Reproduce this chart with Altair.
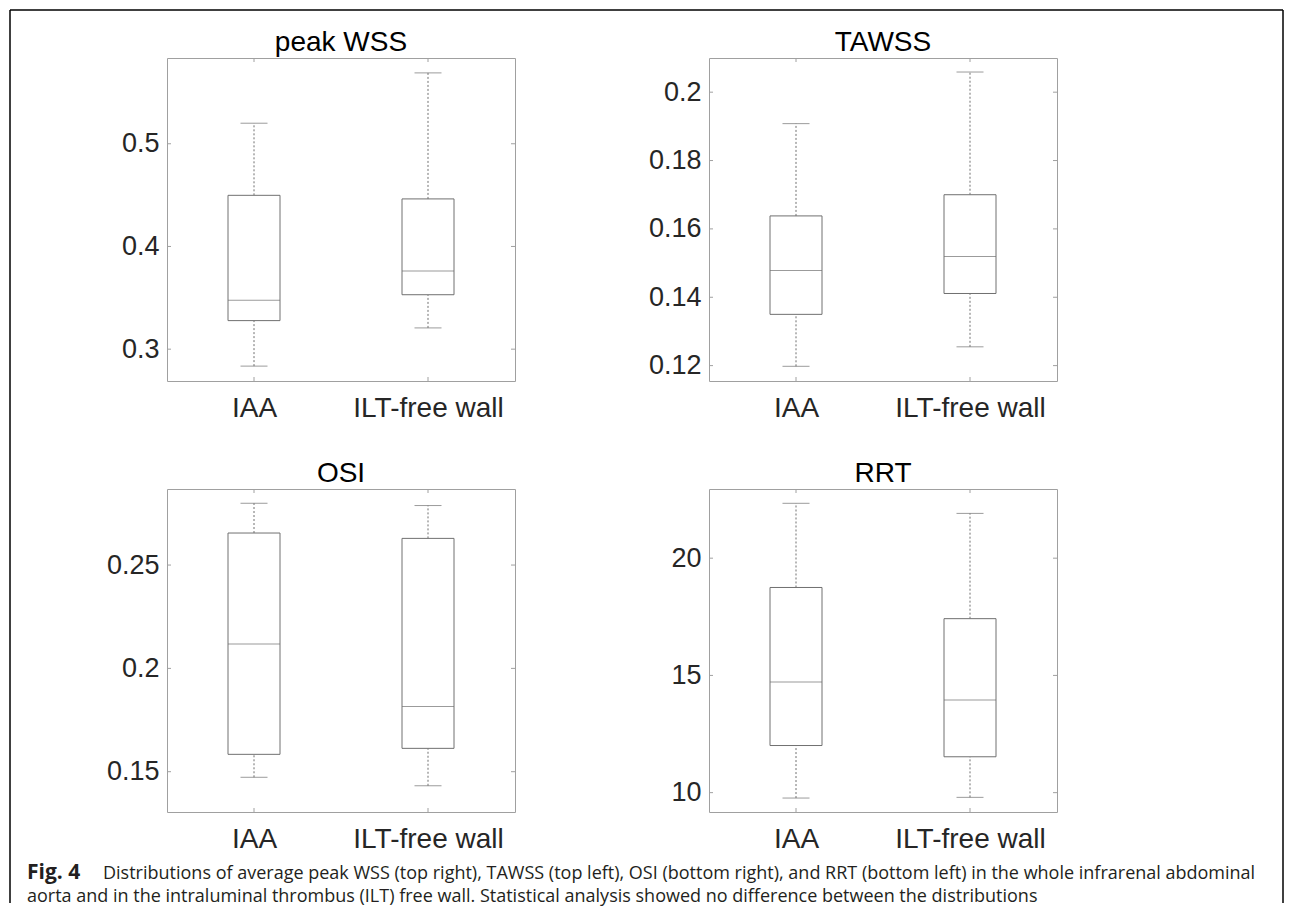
import altair as alt
import pandas as pd

# ---------------- data ----------------
categories = ["IAA", "ILT-free wall"]
panel_titles = ["peak WSS", "TAWSS", "OSI", "RRT"]

wss_min = [0.2835, 0.3207]
wss_q1 = [0.3278, 0.3530]
wss_med = [0.3476, 0.3760]
wss_q3 = [0.4498, 0.4463]
wss_max = [0.5200, 0.5690]

tawss_min = [0.1198, 0.1255]
tawss_q1 = [0.1350, 0.1411]
tawss_med = [0.1478, 0.1519]
tawss_q3 = [0.1638, 0.1700]
tawss_max = [0.1908, 0.2059]

osi_min = [0.1473, 0.1432]
osi_q1 = [0.1584, 0.1613]
osi_med = [0.2118, 0.1816]
osi_q3 = [0.2655, 0.2629]
osi_max = [0.2799, 0.2788]

rrt_min = [9.77, 9.80]
rrt_q1 = [12.01, 11.53]
rrt_med = [14.72, 13.95]
rrt_q3 = [18.75, 17.42]
rrt_max = [22.34, 21.91]

y_domains = [[0.269, 0.5835], [0.1155, 0.2100], [0.1305, 0.2868], [9.175, 22.95]]
y_ticks = [[0.3, 0.4, 0.5], [0.12, 0.14, 0.16, 0.18, 0.2], [0.15, 0.2, 0.25], [10, 15, 20]]

caption_bold = ["Fig. 4"]
caption_line1 = ["Distributions of average peak WSS (top right), TAWSS (top left), OSI (bottom right), and RRT (bottom left) in the whole infrarenal abdominal"]
caption_line2 = ["aorta and in the intraluminal thrombus (ILT) free wall. Statistical analysis showed no difference between the distributions"]

# ---------------- style ----------------
W, H = 348, 323
FRAME = "#a0a0a0"
BOXC = "#707070"
TEXT_FONT = "Liberation Sans, Arial, Helvetica"
CAP_FONT = "Open Sans, Noto Sans, sans-serif"


def panel(title, mins, q1s, meds, q3s, maxs, domain, ticks, decorate=False):
    df = pd.DataFrame({"cat": categories, "lo": mins, "q1": q1s, "med": meds,
                       "q3": q3s, "hi": maxs})
    x = alt.X("cat:N", sort=categories,
              scale=alt.Scale(type="point", padding=0.5, domain=categories),
              axis=alt.Axis(title=None, labelAngle=0, labelFont=TEXT_FONT,
                            labelFontSize=28, labelColor="#262626",
                            labelPadding=13, ticks=False, domain=False,
                            grid=False))
    ysc = alt.Scale(domain=domain, nice=False, zero=False)
    yax = alt.Axis(title=None, values=ticks, format="~g", labelFont=TEXT_FONT,
                   labelFontSize=27, labelColor="#262626", labelPadding=8,
                   ticks=False, domain=False, grid=False)

    def Y(f):
        return alt.Y(f, scale=ysc, axis=yax)

    base = alt.Chart(df)
    upper = base.mark_rule(color=BOXC, strokeDash=[2, 2], strokeWidth=1).encode(
        x=x, y=Y("q3:Q"), y2="hi:Q")
    lower = base.mark_rule(color=BOXC, strokeDash=[2, 2], strokeWidth=1).encode(
        x=x, y=Y("lo:Q"), y2="q1:Q")
    box = base.mark_bar(width=52, fill="white", stroke=BOXC, strokeWidth=1).encode(
        x=x, y=Y("q1:Q"), y2="q3:Q")
    med = base.mark_tick(orient="horizontal", size=52, thickness=1, color=BOXC).encode(
        x=x, y=Y("med:Q"))
    cap_hi = base.mark_tick(orient="horizontal", size=27, thickness=1, color=BOXC).encode(
        x=x, y=Y("hi:Q"))
    cap_lo = base.mark_tick(orient="horizontal", size=27, thickness=1, color=BOXC).encode(
        x=x, y=Y("lo:Q"))

    tdf = pd.DataFrame({"v": ticks})
    ltick = alt.Chart(tdf).mark_rule(color=FRAME).encode(
        y=Y("v:Q"), x=alt.value(0), x2=alt.value(4))
    rtick = alt.Chart(tdf).mark_rule(color=FRAME).encode(
        y=Y("v:Q"), x=alt.value(W - 4), x2=alt.value(W))
    cdf = pd.DataFrame({"cat": categories})
    ttick = alt.Chart(cdf).mark_rule(color=FRAME).encode(
        x=x, y=alt.value(0), y2=alt.value(4))
    btick = alt.Chart(cdf).mark_rule(color=FRAME).encode(
        x=x, y=alt.value(H - 4), y2=alt.value(H))

    ttl = alt.Chart(pd.DataFrame({"t": [title]})).mark_text(
        align="center", baseline="alphabetic", font=TEXT_FONT, fontSize=28,
        color="black").encode(x=alt.value(W / 2), y=alt.value(-7), text="t:N")

    layers = [upper, lower, box, med, cap_hi, cap_lo, ltick, rtick, ttick, btick, ttl]

    if decorate:
        one = pd.DataFrame({"a": [0]})
        # outer frame (decoration), relative to this panel's origin
        left = alt.Chart(one).mark_rule(color="black", strokeWidth=1.5).encode(
            x=alt.value(-157), y=alt.value(-48), y2=alt.value(845))
        right = alt.Chart(one).mark_rule(color="black", strokeWidth=1.5).encode(
            x=alt.value(1116), y=alt.value(-48), y2=alt.value(845))
        top = alt.Chart(one).mark_rule(color="black", strokeWidth=1.5).encode(
            x=alt.value(-157), x2=alt.value(1116), y=alt.value(-48))
        cb = alt.Chart(pd.DataFrame({"t": caption_bold})).mark_text(
            align="left", baseline="alphabetic", font=CAP_FONT, fontSize=21,
            fontWeight="bold", color="#231f20").encode(
            x=alt.value(-140), y=alt.value(821), text="t:N")
        l1 = alt.Chart(pd.DataFrame({"t": caption_line1})).mark_text(
            align="left", baseline="alphabetic", font=CAP_FONT, fontSize=18,
            color="#231f20").encode(
            x=alt.value(-64), y=alt.value(821), text="t:N")
        l2 = alt.Chart(pd.DataFrame({"t": caption_line2})).mark_text(
            align="left", baseline="alphabetic", font=CAP_FONT, fontSize=18,
            color="#231f20").encode(
            x=alt.value(-140), y=alt.value(844), text="t:N")
        layers += [left, right, top, cb, l1, l2]

    return alt.layer(*layers).properties(width=W, height=H)


p1 = panel(panel_titles[0], wss_min, wss_q1, wss_med, wss_q3, wss_max,
           y_domains[0], y_ticks[0], decorate=True)
p2 = panel(panel_titles[1], tawss_min, tawss_q1, tawss_med, tawss_q3, tawss_max,
           y_domains[1], y_ticks[1])
p3 = panel(panel_titles[2], osi_min, osi_q1, osi_med, osi_q3, osi_max,
           y_domains[2], y_ticks[2])
p4 = panel(panel_titles[3], rrt_min, rrt_q1, rrt_med, rrt_q3, rrt_max,
           y_domains[3], y_ticks[3])

chart = alt.concat(p1, p2, p3, p4, columns=2, spacing={"row": 108, "column": 194},
                   bounds="flush").properties(padding=0, background="white").configure_view(
    stroke=FRAME, strokeWidth=1)

chart.save("out.html", embed_options={"renderer": "svg", "actions": False})
